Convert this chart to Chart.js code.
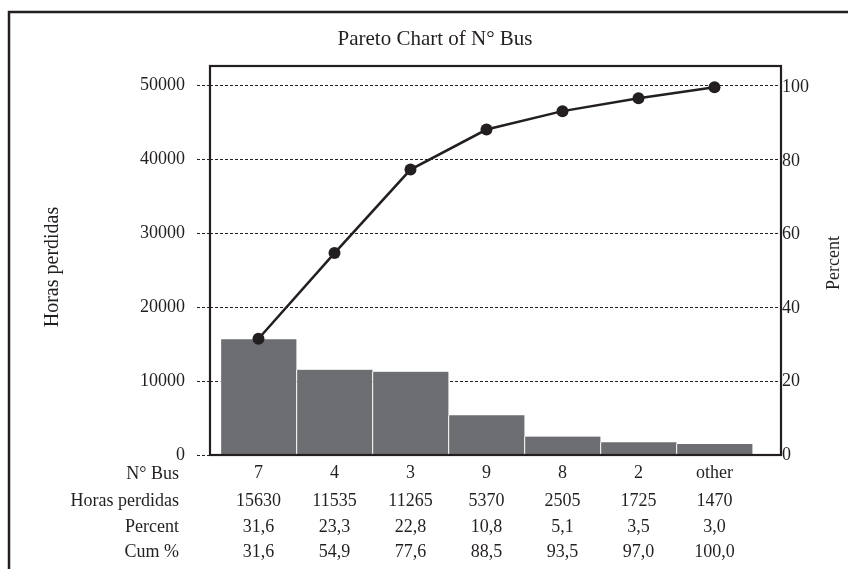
<!DOCTYPE html>
<html>
<head>
<script src="https://cdn.jsdelivr.net/npm/chart.js"></script>
<title>Pareto Chart of N° Bus</title>
<style>
  html, body { margin: 0; padding: 0; background: #fff; }
  #wrap { width: 848px; height: 569px; }
</style>
</head>
<body>
<div id="wrap"><canvas id="myChart"></canvas></div>
<script>
// values
const buses = ['7', '4', '3', '9', '8', '2', 'other'];
const horasPerdidas = [15630, 11535, 11265, 5370, 2505, 1725, 1470];
const percent = [31.6, 23.3, 22.8, 10.8, 5.1, 3.5, 3.0];
const cumPercent = [31.6, 54.9, 77.6, 88.5, 93.5, 97.0, 100.0];
const leftTicks = [0, 10000, 20000, 30000, 40000, 50000];
const rightTicks = [0, 20, 40, 60, 80, 100];

const INK = '#231f20';
const BAR = '#6d6e71';
const SERIF = "'Liberation Serif', 'DejaVu Serif', serif";
const fmt = v => v.toFixed(1).replace('.', ',');

const LEFT_MAX = 52570;

// frame, title, axis titles and the table under the axis
const paretoExtras = {
  id: 'paretoExtras',
  beforeDraw(chart) {
    const ctx = chart.ctx;
    ctx.save();
    ctx.fillStyle = '#fff';
    ctx.fillRect(0, 0, chart.width, chart.height);
    ctx.strokeStyle = INK;
    ctx.lineWidth = 2.5;
    ctx.strokeRect(9, 12, chart.width + 40, chart.height + 40);
    ctx.restore();
  },
  afterDraw(chart) {
    const {ctx, chartArea: a, scales: {x}} = chart;
    ctx.save();
    ctx.strokeStyle = INK;
    ctx.lineWidth = 2.2;
    ctx.strokeRect(a.left, a.top, a.right - a.left, a.bottom - a.top);

    ctx.fillStyle = INK;
    ctx.textAlign = 'center';
    ctx.textBaseline = 'middle';
    ctx.font = '21px ' + SERIF;
    ctx.fillText('Pareto Chart of N° Bus', 435, 39);

    // axis titles, both read bottom to top
    ctx.save();
    ctx.translate(53, 267);
    ctx.rotate(-Math.PI / 2);
    ctx.font = '20px ' + SERIF;
    ctx.fillText('Horas perdidas', 0, 0);
    ctx.restore();
    ctx.save();
    ctx.translate(834, 263);
    ctx.rotate(-Math.PI / 2);
    ctx.font = '18px ' + SERIF;
    ctx.fillText('Percent', 0, 0);
    ctx.restore();

    // table rows
    ctx.font = '18px ' + SERIF;
    ctx.textBaseline = 'alphabetic';
    const rows = [
      ['N° Bus', null, 479],
      ['Horas perdidas', horasPerdidas.map(String), 505.5],
      ['Percent', percent.map(fmt), 531.5],
      ['Cum %', cumPercent.map(fmt), 557]
    ];
    rows.forEach(([label, vals, y]) => {
      ctx.textAlign = 'right';
      ctx.fillText(label, 179, y);
      if (!vals) return;
      ctx.textAlign = 'center';
      vals.forEach((v, i) => ctx.fillText(v, x.getPixelForValue(i), y));
    });
    ctx.restore();
  }
};

const ctx = document.getElementById('myChart').getContext('2d');
const chart = new Chart(ctx, {
  type: 'bar',
  data: {
    datasets: [{
      type: 'line',
      label: 'Cum %',
      data: cumPercent.map((v, i) => ({x: i, y: v})),
      yAxisID: 'y1',
      borderColor: INK,
      borderWidth: 2.5,
      pointRadius: 6,
      pointBackgroundColor: INK,
      pointBorderWidth: 0,
      order: 0
    }, {
      label: 'Horas perdidas',
      data: horasPerdidas.map((v, i) => ({x: i, y: v})),
      yAxisID: 'y',
      backgroundColor: BAR,
      borderColor: '#fff',
      borderWidth: {left: 1, right: 0, top: 0, bottom: 0},
      barPercentage: 1,
      categoryPercentage: 1,
      order: 1
    }]
  },
  options: {
    responsive: true,
    maintainAspectRatio: false,
    animation: false,
    layout: {padding: {top: 66, left: 0, right: 0, bottom: 0}},
    plugins: {
      legend: {display: false},
      tooltip: {enabled: false},
      title: {display: false}
    },
    scales: {
      x: {
        type: 'linear',
        offset: false,
        min: -0.638,
        max: 6.875,
        afterBuildTicks: s => { s.ticks = buses.map((b, i) => ({value: i})); },
        afterFit: s => { s.height = 114; },
        ticks: {
          callback: v => buses[v],
          font: {family: SERIF, size: 18},
          color: INK,
          padding: 7,
          autoSkip: false,
          maxRotation: 0
        },
        grid: {display: false, drawTicks: false, offset: false},
        border: {display: false}
      },
      y: {
        position: 'left',
        min: 0,
        max: LEFT_MAX,
        z: 1,
        afterBuildTicks: s => { s.ticks = leftTicks.map(v => ({value: v})); },
        afterFit: s => { s.width = 210; },
        ticks: {
          callback: v => String(v),
          font: {family: SERIF, size: 18},
          color: INK,
          padding: 12
        },
        grid: {
          color: INK,
          lineWidth: 1,
          tickLength: 13,
          tickColor: INK,
          tickBorderDash: [3, 2]
        },
        border: {display: false, dash: [3, 2]}
      },
      y1: {
        position: 'right',
        min: 0,
        max: LEFT_MAX / 497,
        afterBuildTicks: s => { s.ticks = rightTicks.map(v => ({value: v})); },
        afterFit: s => { s.width = 67; },
        ticks: {
          callback: v => String(v),
          font: {family: SERIF, size: 18},
          color: INK,
          padding: 1
        },
        grid: {display: false, drawTicks: false},
        border: {display: false}
      }
    }
  },
  plugins: [paretoExtras]
});
</script>
</body>
</html>
